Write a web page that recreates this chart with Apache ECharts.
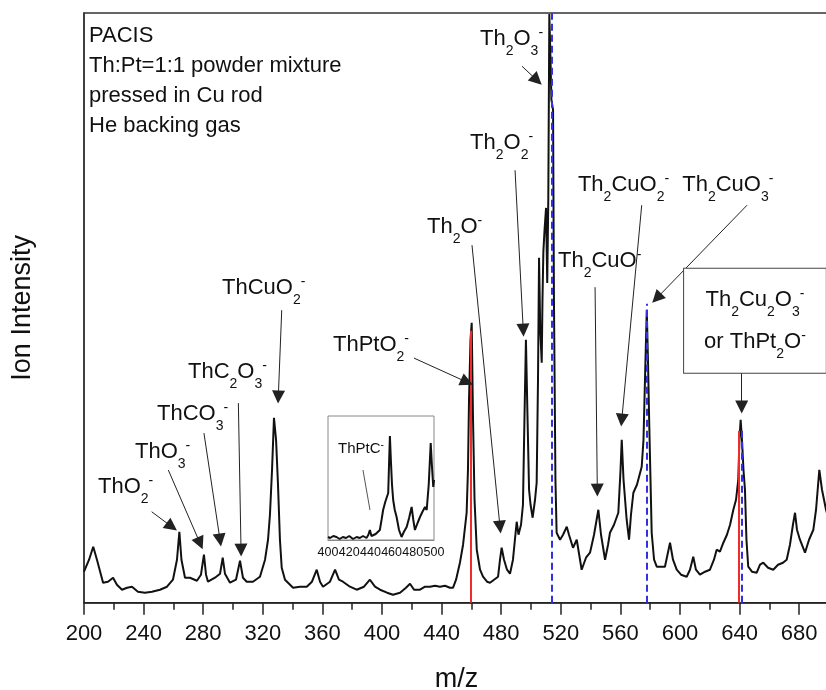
<!DOCTYPE html>
<html><head><meta charset="utf-8">
<script src="https://cdn.jsdelivr.net/npm/echarts@6/dist/echarts.min.js"></script>
<style>html,body{margin:0;padding:0;background:#fff}#c{width:826px;height:690px}</style>
</head><body><div id="c"></div>
<script>
const FONT = '"Liberation Sans", Arial, Helvetica, sans-serif';

// ---- main spectrum (m/z, ion intensity in arbitrary units) ----
const mz = [200.0,203.4,206.2,208.7,212.8,216.1,219.5,222.1,225.5,228.9,232.2,236.2,240.9,245.6,251.0,255.7,259.7,262.4,264.0,265.4,267.8,271.1,275.8,278.5,280.5,281.9,283.2,287.9,291.3,293.1,294.6,298.0,302.0,304.7,306.7,309.2,313.4,318.1,321.5,323.5,324.8,326.2,327.5,328.9,330.2,331.5,332.7,334.9,340.3,345.0,349.5,353.0,356.2,358.4,360.4,365.1,368.5,371.1,373.8,378.5,383.0,387.9,391.9,395.3,398.7,403.4,407.4,412.1,416.1,418.8,421.5,425.5,428.9,432.2,435.6,438.9,442.3,445.6,447.7,449.7,452.3,454.4,456.8,457.7,458.4,459.4,460.2,461.1,462.1,463.6,465.8,467.8,470.5,472.5,475.2,477.9,479.2,480.3,481.9,483.9,485.9,487.9,490.4,491.6,493.3,494.6,495.6,496.6,497.7,498.7,499.7,501.1,502.7,503.8,504.7,505.4,506.2,507.2,507.7,508.3,509.1,510.1,510.9,511.6,512.3,513.1,513.7,514.8,515.4,516.4,517.2,519.5,521.5,524.0,525.5,528.2,530.7,534.0,536.9,539.6,542.3,545.2,547.0,549.7,551.7,553.0,555.7,558.6,560.1,560.9,562.1,564.2,565.8,567.1,568.7,571.1,574.3,575.5,576.5,577.7,578.5,579.4,580.2,581.0,582.6,584.4,587.2,589.9,591.6,593.3,595.3,597.8,600.7,604.5,606.7,608.9,610.7,613.4,616.8,620.1,622.8,624.6,626.8,629.1,631.5,633.6,635.8,637.6,639.1,639.9,640.7,641.6,642.6,643.6,644.6,645.8,648.3,651.5,653.7,655.9,659.1,662.6,665.8,669.1,671.6,673.8,675.8,677.2,678.5,680.5,683.9,686.6,689.5,691.3,693.5,695.3,698.0,700.0];
const intensity = [31,43,56,43,20,21,25,18,13,15,16,11,10,11,13,16,23,43,71,43,25,25,22,28,48,28,21,25,29,45,29,20,23,42,25,21,21,26,43,63,88,133,185,163,118,63,35,23,15,16,16,21,33,21,16,21,33,23,21,16,13,16,23,16,13,10,8,10,15,19,13,13,16,16,17,16,17,15,15,23,40,58,90,133,203,263,280,183,103,53,33,26,21,20,23,26,43,55,43,33,29,43,81,68,78,98,183,263,183,113,98,85,103,120,223,345,273,240,303,351,373,395,320,403,589,543,503,493,303,123,70,63,68,76,68,55,63,33,45,50,68,93,68,43,58,70,78,90,133,163,123,83,63,88,110,118,136,163,223,293,243,176,123,70,43,36,36,36,48,60,43,33,28,26,33,46,33,28,31,33,43,53,51,60,68,78,93,103,123,163,183,163,133,113,63,36,31,30,38,40,35,33,38,40,43,58,78,90,73,63,50,63,73,93,133,113,93,83];

// ---- inset spectrum ----
const insetMz = [400,402,405,408,411,414,417,420,423.6,427,430,433,436.3,438,439.5,441,442.6,445,448.9,450.5,452,454,456.8,457.7,458.4,459.3,460.4,461.5,463,464.7,467,469.4,471.5,474.2,476.5,478.9,480.5,482,484.5,486.8,489,491.5,493.1,495,496.9,498,499.3,500];
const insetIntensity = [3,2,4,3,1,3,2,4,1,3,2,4,2,5,10,4,2,6,10,20,30,38,47,80,104,80,55,40,30,23,10,3,8,13,22,33,20,10,17,23,28,33,30,55,97,75,53,60];

// ---- axes ----
const xMin = 200, xMax = 700, xStep = 40;
const insetMin = 400, insetMax = 500, insetStep = 20;
const yMax = 590, insetYMax = 124;

// ---- reference lines ----
const redLineMz = [459.5, 639.5];
const redLineTop = [272, 172];
const blueLineMz = [513.9, 577.7, 641.2];
const blueLineTop = [590, 299, 176];

// ---- peak labels (markup: _x subscript, ^x superscript) ----
const labelText = ['ThO_2^-','ThO_3^-','ThCO_3^-','ThC_2O_3^-','ThCuO_2^-','ThPtO_2^-','Th_2O^-','Th_2O_2^-','Th_2O_3^-','Th_2CuO^-','Th_2CuO_2^-','Th_2CuO_3^-'];
const labelMz  = [209.4,234.2,249.0,269.8,292.6,367.1,430.2,459.1,465.8,518.1,531.5,601.5];
const labelInt = [115.7,150.7,188.7,230.7,315.2,257.7,375.7,460.2,563.7,341.7,417.7,417.7];
const arrowFromMz  = [245.4,256.6,280.5,303.6,332.7,421.5,460.4,489.3,494.0,543.0,574.3,645.0,641.4];
const arrowFromInt = [91,132.7,169.7,199.7,292.7,244.7,357.7,432.7,536.7,315.7,397.7,397.7,229.7];
const arrowToMz    = [258.9,277.9,291.3,305.4,330.4,457.0,479.2,494.8,504.0,544.5,560.9,584.4,641.4];
const arrowToInt   = [76,59.4,62.7,52.7,205.7,220.7,75.7,272.7,522.7,112.7,182.7,304.7,195.7];
const boxText = 'Th_2Cu_2O_3^-\nor ThPt_2O^-';
const boxMz = 650.3, boxInt = 282.2;
const insetLabel = 'ThPtC^-';
const insetLabelMz = 409.4, insetLabelInt = 91;
const insetLineFrom = [433, 70], insetLineTo = [439.6, 30];

const infoText = 'PACIS\nTh:Pt=1:1 powder mixture\npressed in Cu rod\nHe backing gas';

function toRich(s, m, sb, sp) {
  let out = '', buf = '';
  const flush = () => { if (buf) { out += '{' + m + '|' + buf + '}'; buf = ''; } };
  for (let i = 0; i < s.length; i++) {
    const c = s[i];
    if (c === '_' || c === '^') { flush(); out += '{' + (c === '_' ? sb : sp) + '|' + s[i + 1] + '}'; i++; }
    else if (c === '\n') { flush(); out += '\n'; }
    else buf += c;
  }
  flush();
  return out;
}

const INK = '#111';
const richStyles = {
  m: {fontSize: 22, lineHeight: 30, color: INK, fontFamily: FONT},
  s: {fontSize: 14, lineHeight: 14, padding: [24, 0, 0, 0], color: INK, fontFamily: FONT},
  p: {fontSize: 14, lineHeight: 14, padding: [0, 0, 12, 0], color: INK, fontFamily: FONT},
  bm: {fontSize: 22, lineHeight: 42, color: INK, fontFamily: FONT},
  im: {fontSize: 15, lineHeight: 20, color: INK, fontFamily: FONT},
  ip: {fontSize: 10, lineHeight: 10, padding: [0, 0, 8, 0], color: INK, fontFamily: FONT}
};

const spectrum = mz.map((x, i) => [x, intensity[i]]);
const insetData = insetMz.map((x, i) => [x, insetIntensity[i]]);

const labelData = labelText.map((t, i) => ({
  value: [labelMz[i], labelInt[i]],
  label: {formatter: toRich(t, 'm', 's', 'p')}
}));
const arrowData = arrowFromMz.map((x, i) => ({coords: [[x, arrowFromInt[i]], [arrowToMz[i], arrowToInt[i]]]}));
const redData = redLineMz.map((x, i) => ({coords: [[x, 0], [x, redLineTop[i]]]}));
const blueData = blueLineMz.map((x, i) => ({coords: [[x, 0], [x, blueLineTop[i]]]}));

const chart = echarts.init(document.getElementById('c'), null, {renderer: 'canvas'});
chart.setOption({
  animation: false,
  backgroundColor: '#fff',
  textStyle: {fontFamily: FONT},
  title: {
    text: infoText, left: 84, top: 16,
    textStyle: {fontSize: 22, fontWeight: 'normal', lineHeight: 30, color: INK, fontFamily: FONT}
  },
  grid: [
    {left: 84, top: 13, width: 745, height: 589.7, show: true, borderColor: '#333', borderWidth: 1.5,
     backgroundColor: 'transparent', containLabel: false, outerBoundsMode: 'none'},
    {left: 328, top: 416, width: 106, height: 124, show: true, borderColor: '#888', borderWidth: 1,
     backgroundColor: '#fff', z: 4, containLabel: false, outerBoundsMode: 'none'}
  ],
  xAxis: [
    {
      type: 'value', gridIndex: 0, min: xMin, max: xMax, interval: xStep,
      name: 'm/z', nameLocation: 'middle', nameGap: 63,
      nameTextStyle: {fontSize: 27, color: INK, fontFamily: FONT},
      axisLine: {show: true, onZero: false, lineStyle: {color: '#222', width: 1.5}},
      axisTick: {show: true, length: 12, lineStyle: {color: '#222', width: 1.5}},
      minorTick: {show: true, splitNumber: 2, length: 7, lineStyle: {color: '#222', width: 1.5}},
      axisLabel: {fontSize: 22, color: INK, margin: 20, fontFamily: FONT, showMaxLabel: false},
      splitLine: {show: false}
    },
    {
      type: 'value', gridIndex: 1, min: insetMin, max: insetMax, interval: insetStep,
      axisLine: {show: true, onZero: false, lineStyle: {color: '#888', width: 1}},
      axisTick: {show: false},
      axisLabel: {fontSize: 12.5, color: INK, margin: 6, fontFamily: FONT, showMinLabel: true, showMaxLabel: true, hideOverlap: false},
      splitLine: {show: false}, z: 5
    }
  ],
  yAxis: [
    {
      type: 'value', gridIndex: 0, min: 0, max: yMax,
      name: 'Ion Intensity', nameLocation: 'middle', nameGap: 48,
      nameTextStyle: {fontSize: 27, color: INK, fontFamily: FONT},
      axisLine: {show: true, lineStyle: {color: '#333', width: 1.5}},
      axisTick: {show: false}, axisLabel: {show: false}, splitLine: {show: false}
    },
    {type: 'value', gridIndex: 1, min: 0, max: insetYMax, show: false}
  ],
  series: [
    {
      type: 'line', xAxisIndex: 0, yAxisIndex: 0, data: spectrum, showSymbol: false,
      lineStyle: {color: '#111', width: 2}, z: 2, silent: true
    },
    {
      type: 'lines', coordinateSystem: 'cartesian2d', xAxisIndex: 0, yAxisIndex: 0, data: redData,
      symbol: 'none', lineStyle: {color: '#ef2b2b', width: 2, opacity: 1}, z: 3, silent: true
    },
    {
      type: 'lines', coordinateSystem: 'cartesian2d', xAxisIndex: 0, yAxisIndex: 0, data: blueData,
      symbol: 'none', lineStyle: {color: '#3030e6', width: 2, opacity: 1, type: [7, 4]}, z: 3, silent: true
    },
    {
      type: 'lines', coordinateSystem: 'cartesian2d', xAxisIndex: 0, yAxisIndex: 0, data: arrowData,
      symbol: ['none', 'triangle'], symbolSize: [8, 13],
      lineStyle: {color: '#222', width: 1, opacity: 1}, z: 4, silent: true
    },
    {
      type: 'scatter', xAxisIndex: 0, yAxisIndex: 0, data: labelData, symbolSize: 0, z: 6, silent: true,
      itemStyle: {opacity: 1},
      label: {show: true, opacity: 1, position: [0, 0], align: 'left', verticalAlign: 'middle', rich: richStyles}
    },
    {
      type: 'scatter', xAxisIndex: 0, yAxisIndex: 0, symbolSize: 0, z: 6, silent: true,
      itemStyle: {opacity: 1},
      data: [{value: [boxMz, boxInt]}],
      label: {
        show: true, opacity: 1, position: [0, 0], align: 'center', verticalAlign: 'middle',
        formatter: toRich(boxText, 'bm', 's', 'p'), rich: richStyles,
        borderColor: '#444', borderWidth: 1, backgroundColor: '#fff', padding: [10, 20, 10, 20]
      }
    },
    {
      type: 'line', xAxisIndex: 1, yAxisIndex: 1, data: insetData, showSymbol: false,
      lineStyle: {color: '#111', width: 2}, z: 5, silent: true
    },
    {
      type: 'lines', coordinateSystem: 'cartesian2d', xAxisIndex: 1, yAxisIndex: 1,
      data: [{coords: [insetLineFrom, insetLineTo]}], symbol: 'none',
      lineStyle: {color: '#555', width: 1, opacity: 1}, z: 6, silent: true
    },
    {
      type: 'scatter', xAxisIndex: 1, yAxisIndex: 1, symbolSize: 0, z: 7, silent: true,
      itemStyle: {opacity: 1},
      data: [{value: [insetLabelMz, insetLabelInt]}],
      label: {show: true, opacity: 1, position: [0, 0], align: 'left', verticalAlign: 'middle',
        formatter: toRich(insetLabel, 'im', 's', 'ip'), rich: richStyles}
    }
  ]
});
</script></body></html>
